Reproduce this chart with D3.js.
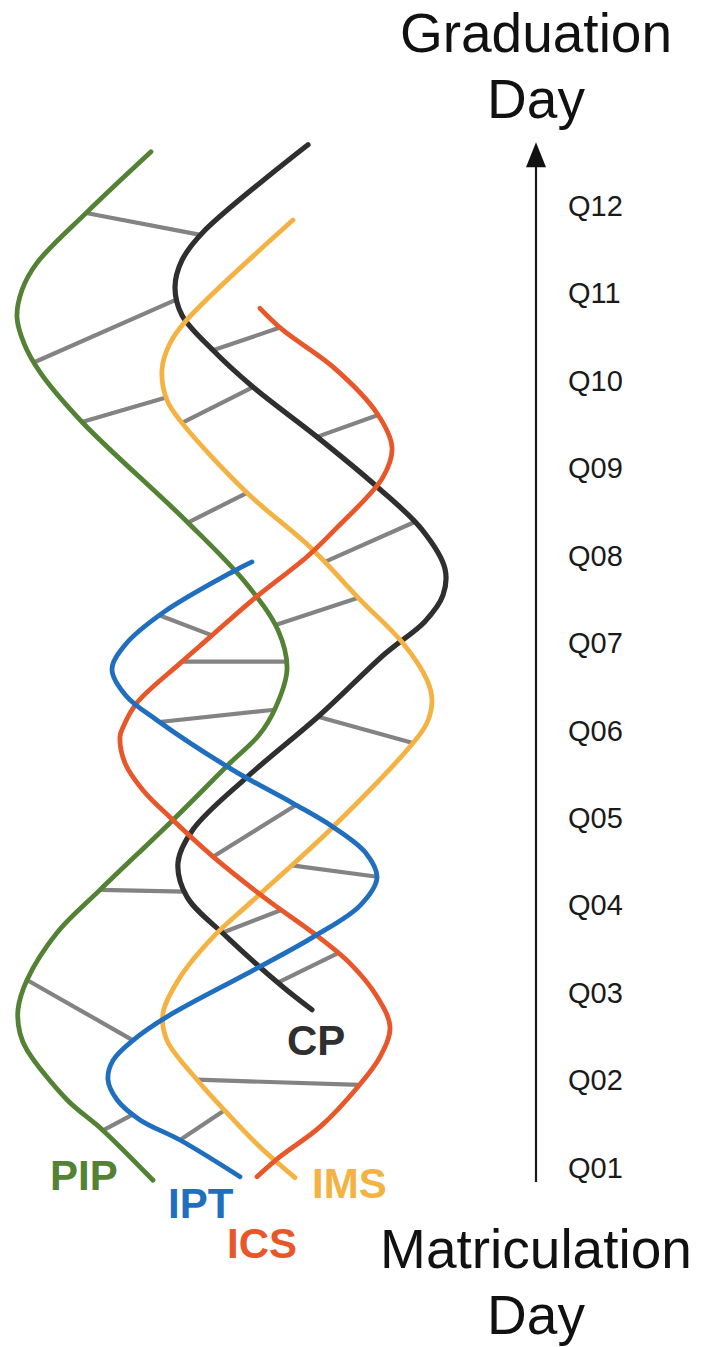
<!DOCTYPE html>
<html>
<head>
<meta charset="utf-8">
<script src="https://cdn.jsdelivr.net/npm/d3@7"></script>
<style>
  body { margin: 0; background: #ffffff; }
  svg { display: block; }
</style>
</head>
<body>
<svg id="chart" width="705" height="1347"></svg>
<script>
// ---------------- DATA ----------------
// Quarter tick labels (y axis, bottom to top)
const quarterValues = [1, 2, 3, 4, 5, 6, 7, 8, 9, 10, 11, 12];
const quarterLabels = ["Q01", "Q02", "Q03", "Q04", "Q05", "Q06", "Q07", "Q08", "Q09", "Q10", "Q11", "Q12"];

// Series names
const seriesNames = ["PIP", "IPT", "ICS", "IMS", "CP"];

// Each strand: [lateral position, quarter] (top to bottom)
const pipStrand = [[15.1,12.62],[8.7,11.93],[3.7,11.35],[2.2,11.04],[1.7,10.73],[2.4,10.43],[4.0,10.10],[8.2,9.53],[18.7,8.39],[24.5,7.70],[27.8,7.15],[28.7,6.70],[27.5,6.25],[25.9,5.95],[23.0,5.63],[17.3,4.98],[10.0,4.18],[5.7,3.69],[2.7,3.15],[1.8,2.81],[2.0,2.54],[2.7,2.35],[6.7,1.78],[10.3,1.43],[15.3,0.86]];
const iptStrand = [[25.2,7.93],[23.3,7.82],[16.3,7.35],[12.5,6.98],[11.2,6.70],[12.6,6.40],[15.7,6.12],[23.3,5.55],[29.3,5.17],[33.3,4.90],[36.6,4.60],[37.7,4.32],[36.0,4.00],[31.3,3.64],[25.3,3.26],[16.7,2.73],[13.3,2.46],[11.3,2.23],[10.8,2.01],[11.7,1.78],[14.0,1.55],[18.0,1.32],[24.0,0.90]];
const icsStrand = [[26.0,10.83],[28.3,10.58],[33.3,10.16],[37.7,9.63],[39.2,9.24],[38.3,8.90],[33.5,8.30],[30.7,7.99],[25.3,7.50],[21.0,7.07],[18.0,6.77],[13.7,6.32],[12.3,6.04],[12.0,5.93],[12.5,5.63],[14.3,5.32],[17.0,5.01],[21.3,4.56],[26.8,4.06],[31.3,3.69],[35.0,3.34],[37.7,2.96],[39.0,2.61],[38.0,2.27],[35.8,1.93],[32.0,1.47],[28.0,1.13],[25.7,0.90]];
const imsStrand = [[29.3,11.84],[18.7,10.70],[17.0,10.43],[16.2,10.13],[16.7,9.78],[18.2,9.52],[24.7,8.72],[31.0,8.10],[36.0,7.50],[40.3,7.00],[42.7,6.58],[43.2,6.35],[42.7,6.09],[41.3,5.86],[33.3,4.90],[25.3,4.06],[21.3,3.64],[18.0,3.18],[16.3,2.77],[16.7,2.46],[19.7,2.01],[22.7,1.63],[26.0,1.24],[29.5,0.89]];
const cpStrand = [[30.8,12.70],[20.3,11.70],[18.2,11.38],[17.5,11.07],[18.2,10.75],[21.3,10.35],[25.3,9.93],[31.7,9.36],[37.7,8.79],[42.2,8.30],[44.5,7.85],[44.3,7.55],[42.5,7.25],[38.5,6.88],[32.0,6.18],[24.7,5.47],[19.3,4.87],[17.8,4.49],[18.7,4.10],[22.7,3.64],[28.3,3.07],[31.2,2.81]];

// Rungs linking two strands: [strand A, quarter on A, strand B, quarter on B]
const rungs = [
  ["PIP", 11.92, "CP", 11.67],
  ["PIP", 10.21, "CP", 10.93],
  ["CP", 10.35, "ICS", 10.61],
  ["PIP", 9.53, "IMS", 9.81],
  ["IMS", 9.52, "CP", 9.93],
  ["CP", 9.36, "ICS", 9.61],
  ["PIP", 8.38, "IMS", 8.72],
  ["IMS", 7.93, "CP", 8.39],
  ["IPT", 7.32, "ICS", 7.09],
  ["PIP", 7.21, "IMS", 7.52],
  ["ICS", 6.79, "PIP", 6.79],
  ["IPT", 6.10, "PIP", 6.24],
  ["CP", 6.16, "IMS", 5.86],
  ["ICS", 4.56, "IPT", 5.15],
  ["IMS", 4.46, "IPT", 4.33],
  ["PIP", 4.18, "CP", 4.16],
  ["CP", 3.69, "ICS", 3.95],
  ["CP", 3.12, "ICS", 3.46],
  ["PIP", 3.15, "IPT", 2.46],
  ["IMS", 2.01, "ICS", 1.95],
  ["PIP", 1.43, "IPT", 1.61],
  ["IPT", 1.32, "IMS", 1.66]
];

// ---------------- LAYOUT / STYLE ----------------
const strands = { PIP: pipStrand, IPT: iptStrand, ICS: icsStrand, IMS: imsStrand, CP: cpStrand };
const colors = { PIP: "#548235", IPT: "#1f6fbe", ICS: "#e8572a", IMS: "#f4b243", CP: "#2f2f2f" };
const widths = { PIP: 4.8, IPT: 4.8, ICS: 4.8, IMS: 4.8, CP: 5.2 };
const labelPos = { PIP: [5.0, 0.75], IPT: [16.8, 0.43], ICS: [22.7, -0.03], IMS: [31.2, 0.66], CP: [28.7, 2.29] };
const fontFamily = "'Liberation Sans', Arial, Helvetica, sans-serif";

const svg = d3.select("#chart");
const x = d3.scaleLinear().domain([0, 47]).range([0, 470]);
const y = d3.scaleLinear().domain([1, 12]).range([1168, 206]);

const line = d3.line()
  .x(d => x(d[0]))
  .y(d => y(d[1]))
  .curve(d3.curveCatmullRom.alpha(0.5));

const rungLayer = svg.append("g").attr("class", "rungs");
const strandLayer = svg.append("g").attr("class", "strands");

const drawOrder = ["PIP", "CP", "IMS", "ICS", "IPT"];
const pathNodes = {};
drawOrder.forEach(name => {
  const p = strandLayer.append("path")
    .datum(strands[name])
    .attr("d", line)
    .attr("fill", "none")
    .attr("stroke", colors[name])
    .attr("stroke-width", widths[name])
    .attr("stroke-linecap", "round")
    .attr("stroke-linejoin", "round");
  pathNodes[name] = p.node();
});

// sample each path so rungs can attach exactly to the drawn strands
const samples = {};
Object.keys(pathNodes).forEach(name => {
  const node = pathNodes[name];
  const L = node.getTotalLength();
  const pts = [];
  for (let l = 0; l <= L; l += 0.5) pts.push(node.getPointAtLength(l));
  samples[name] = pts;
});
function xAtY(name, py) {
  const pts = samples[name];
  let best = pts[0], bd = Infinity;
  for (let i = 1; i < pts.length; i++) {
    const a = pts[i - 1], b = pts[i];
    if ((a.y - py) * (b.y - py) <= 0 && a.y !== b.y) {
      const t = (py - a.y) / (b.y - a.y);
      return a.x + t * (b.x - a.x);
    }
    const d = Math.abs(b.y - py);
    if (d < bd) { bd = d; best = b; }
  }
  return best.x;
}

rungLayer.selectAll("line")
  .data(rungs)
  .join("line")
  .attr("x1", d => xAtY(d[0], y(d[1])))
  .attr("y1", d => y(d[1]))
  .attr("x2", d => xAtY(d[2], y(d[3])))
  .attr("y2", d => y(d[3]))
  .attr("stroke", "#838383")
  .attr("stroke-width", 4.2);

// strand labels
svg.append("g").selectAll("text")
  .data(seriesNames)
  .join("text")
  .attr("x", d => x(labelPos[d][0]))
  .attr("y", d => y(labelPos[d][1]))
  .attr("fill", d => colors[d])
  .attr("font-family", fontFamily)
  .attr("font-weight", "bold")
  .attr("font-size", 42)
  .text(d => d);

// ---------------- AXIS ----------------
const axisX = 536;
const axis = d3.axisRight(y)
  .tickValues(quarterValues)
  .tickFormat((d, i) => quarterLabels[i])
  .tickSize(0)
  .tickPadding(32);
const axisG = svg.append("g")
  .attr("transform", `translate(${axisX},0)`)
  .call(axis);
axisG.select(".domain").remove();
axisG.selectAll("text")
  .attr("font-family", fontFamily)
  .attr("font-size", 29)
  .attr("fill", "#1a1a1a");

// arrow line (from below Q01 up past Q12)
const arrowBottom = y(0.84);
const arrowTop = y(12.73);
svg.append("line")
  .attr("x1", axisX).attr("x2", axisX)
  .attr("y1", arrowBottom).attr("y2", arrowTop + 20)
  .attr("stroke", "#1a1a1a")
  .attr("stroke-width", 2.2);
svg.append("path")
  .attr("d", `M${axisX},${arrowTop} L${axisX - 10},${arrowTop + 25} L${axisX + 10},${arrowTop + 25} Z`)
  .attr("fill", "#111");

// titles
const titleTop = ["Graduation", "Day"];
const titleBottom = ["Matriculation", "Day"];
svg.append("g").selectAll("text")
  .data(titleTop)
  .join("text")
  .attr("x", axisX)
  .attr("y", (d, i) => 52 + i * 66)
  .attr("text-anchor", "middle")
  .attr("font-family", fontFamily)
  .attr("font-size", 55)
  .attr("fill", "#111")
  .text(d => d);
svg.append("g").selectAll("text")
  .data(titleBottom)
  .join("text")
  .attr("x", axisX)
  .attr("y", (d, i) => 1268 + i * 66)
  .attr("text-anchor", "middle")
  .attr("font-family", fontFamily)
  .attr("font-size", 55)
  .attr("fill", "#111")
  .text(d => d);
</script>
</body>
</html>
